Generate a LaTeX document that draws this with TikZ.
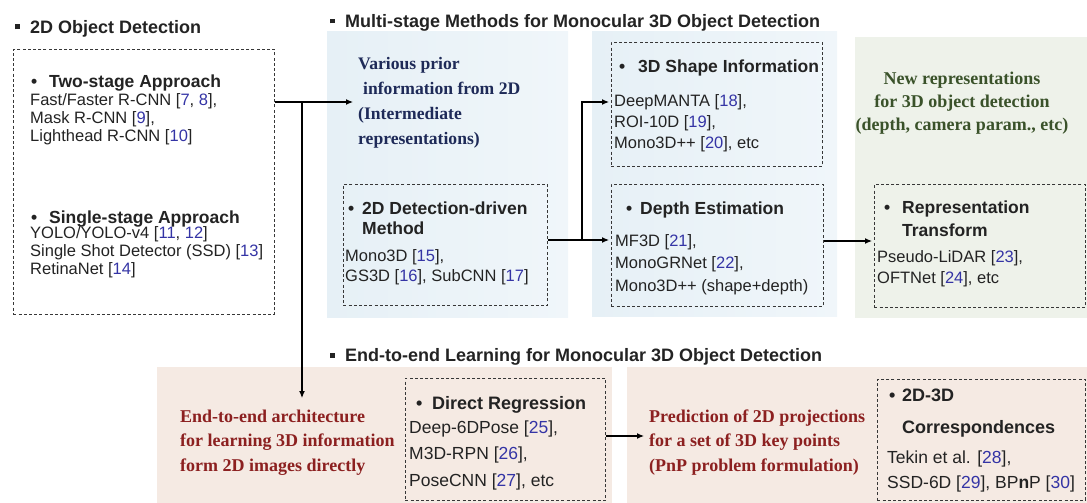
\documentclass[tikz,border=0pt]{standalone}
\usepackage{fontspec}
\setmainfont{Liberation Sans}
\newfontfamily\tnr{Liberation Serif}
\usetikzlibrary{arrows.meta}
\definecolor{txt}{RGB}{35,35,35}
\definecolor{cite}{RGB}{52,52,165}
\definecolor{navy}{RGB}{30,42,88}
\definecolor{dred}{RGB}{140,32,32}
\definecolor{olive}{RGB}{58,82,42}
\definecolor{pblue}{RGB}{230,240,246}
\definecolor{pblueb}{RGB}{240,246,250}
\definecolor{pgreen}{RGB}{238,242,234}
\definecolor{ppink}{RGB}{245,234,227}
\definecolor{dgray}{RGB}{55,55,55}
\newcommand{\cc}[1]{\textcolor{cite}{#1}}
\tikzset{
  dbox/.style={draw=dgray, line width=0.9pt, dash pattern=on 3pt off 2.2pt, inner sep=0pt, anchor=north west},
  ttl/.style={anchor=base west, inner sep=0pt, text=txt, font=\fontsize{18}{20}\selectfont\bfseries},
  hd/.style={anchor=base west, inner sep=0pt, text=txt, font=\fontsize{17.5}{20}\selectfont\bfseries},
  hdb/.style={anchor=base west, inner sep=0pt, text=txt, font=\fontsize{18}{20}\selectfont\bfseries},
  it/.style={anchor=base west, inner sep=0pt, text=txt, align=left},
  note/.style={anchor=base west, inner sep=0pt, align=left},
  ln/.style={line width=1.2pt, draw=black},
  arr/.style={line width=1.2pt, draw=black, -{Latex[length=7pt,width=6pt]}},
}
\begin{document}
\begin{tikzpicture}[x=1pt, y=-1pt]
\useasboundingbox (0,0) rectangle (1087,503);
% panels
\shade[left color=pblue, right color=pblueb] (327,32) rectangle (568,317);
\shade[left color=pblue, right color=pblueb] (592,32) rectangle (837,316);
\fill[pgreen] (855,37) rectangle (1087,318);
\fill[ppink] (157,367) rectangle (612,503);
\fill[ppink] (627,367) rectangle (1087,503);
% titles
\node[ttl] (t1) at (15,33.5) {\raisebox{4pt}{\rule{5pt}{5pt}}\hspace{10pt}2D Object Detection};
\node[ttl] (t2) at (330,27.5) {\raisebox{4pt}{\rule{5pt}{5pt}}\hspace{10pt}Multi-stage Methods for Monocular 3D Object Detection};
\node[ttl] (t3) at (330,361.5) {\raisebox{4pt}{\rule{5pt}{5pt}}\hspace{10pt}End-to-end Learning for Monocular 3D Object Detection};
% dashed boxes
\node[dbox, minimum width=261pt, minimum height=265pt] (det) at (13,49) {};
\node[dbox, minimum width=204pt, minimum height=121pt] (method) at (343,184) {};
\node[dbox, minimum width=211pt, minimum height=124pt] (shape) at (611,42) {};
\node[dbox, minimum width=212pt, minimum height=122pt] (depth) at (611,184) {};
\node[dbox, minimum width=211pt, minimum height=123pt] (rep) at (874,184) {};
\node[dbox, minimum width=200pt, minimum height=122pt] (direct) at (405,378) {};
\node[dbox, minimum width=208pt, minimum height=121pt] (corr) at (877,379) {};
% 2D object detection box (multi-line nodes: anchor at the baseline of the last line)
\node[hd] (b1) at (31,88) {\textbullet};
\node[hd] (h1) at (49,88) {Two-stage Approach};
\node[it, font=\fontsize{16.5}{18}\selectfont] (i1) at (30,141) {Fast/Faster R-CNN [\cc{7}, \cc{8}],\\Mask R-CNN [\cc{9}],\\Lighthead R-CNN [\cc{10}]};
\node[hd] (b2) at (31,223) {\textbullet};
\node[hd] (h2) at (49,223) {Single-stage Approach};
\node[it, font=\fontsize{16.5}{17.6}\selectfont] (i2) at (30,274) {YOLO/YOLO-v4 [\cc{11}, \cc{12}]\\Single Shot Detector (SSD) [\cc{13}]\\RetinaNet [\cc{14}]};
% prior information
\node[note, text=navy, font=\tnr\fontsize{17.6}{25}\selectfont\bfseries] (prior) at (358,144) {Various prior\\\hspace{5pt}information from 2D\\(Intermediate\\representations)};
% 2D detection-driven
\node[hd] (b3) at (348,214) {\textbullet};
\node[hd] (h3) at (362,214) {2D Detection-driven};
\node[hd] (h3b) at (362,234) {Method};
\node[it, font=\fontsize{16.5}{20}\selectfont] (i3) at (345,281) {Mono3D [\cc{15}],\\GS3D [\cc{16}], SubCNN [\cc{17}]};
% 3D shape
\node[hd] (b4) at (619,73) {\textbullet};
\node[hd] (h4) at (638,73) {3D Shape Information};
\node[it, font=\fontsize{16.5}{21}\selectfont] (i4) at (614,148) {DeepMANTA [\cc{18}],\\ROI-10D [\cc{19}],\\Mono3D++ [\cc{20}], etc};
% depth estimation
\node[hd] (b5) at (626,214) {\textbullet};
\node[hd] (h5) at (640,214) {Depth Estimation};
\node[it, font=\fontsize{16.5}{22.5}\selectfont] (i5) at (615,291) {MF3D [\cc{21}],\\MonoGRNet [\cc{22}],\\Mono3D++ (shape+depth)};
% new representations
\node[note, text=olive, align=center, anchor=base, font=\tnr\fontsize{18}{23}\selectfont\bfseries] (newrep) at (962,130) {New representations\\for 3D object detection\\(depth, camera param., etc)};
% representation transform
\node[hd] (b6) at (884,213) {\textbullet};
\node[hd] (h6) at (902,213) {Representation};
\node[hd] (h6b) at (902,236) {Transform};
\node[it, font=\fontsize{16.5}{21}\selectfont] (i6) at (877,283) {Pseudo-LiDAR [\cc{23}],\\OFTNet [\cc{24}], etc};
% end-to-end
\node[note, text=dred, font=\tnr\fontsize{18}{24.5}\selectfont\bfseries] (e2e) at (180,471) {End-to-end architecture\\for learning 3D information\\form 2D images directly};
\node[hdb] (b7) at (416,409) {\textbullet};
\node[hdb] (h7) at (432,409) {Direct Regression};
\node[it, font=\fontsize{17.5}{26.5}\selectfont] (i7) at (409,486) {Deep-6DPose [\cc{25}],\\M3D-RPN [\cc{26}],\\PoseCNN [\cc{27}], etc};
\node[note, text=dred, font=\tnr\fontsize{18}{24.5}\selectfont\bfseries] (pnp) at (649,471) {Prediction of 2D projections\\for a set of 3D key points\\(PnP problem formulation)};
\node[hdb] (b8) at (889,401) {\textbullet};
\node[hdb] (h8) at (902,401) {2D-3D};
\node[hdb] (h8b) at (902,433) {Correspondences};
\node[it, font=\fontsize{17.5}{25}\selectfont] (i8) at (887,488) {Tekin et al. [\cc{28}],\\SSD-6D [\cc{29}], BP{\bfseries n}P [\cc{30}]};
% connectors
\coordinate (j1) at (302,102);
\coordinate (j2) at (582,240);
\coordinate (j3) at (582,102);
\coordinate (j4) at (845,241);
\coordinate (j5) at (620,436);
\draw[ln] (det.east |- j1) -- (j1);
\draw[arr, shorten >=5pt] (j1) -- (prior.west |- j1);
\draw[arr] (j1) -- (j1 |- 0,398);
\draw[ln] (method.east |- j2) -- (j2);
\draw[arr, shorten >=2pt] (j2) -- (depth.west |- j2);
\draw[arr, shorten >=2pt] (j2) -- (j3) -- (shape.west |- j3);
\draw[arr, shorten >=2pt] (depth.east |- j4) -- (rep.west |- j4);
\draw[arr, shorten >=5pt] (direct.east |- j5) -- (pnp.west |- j5);
\end{tikzpicture}
\end{document}
